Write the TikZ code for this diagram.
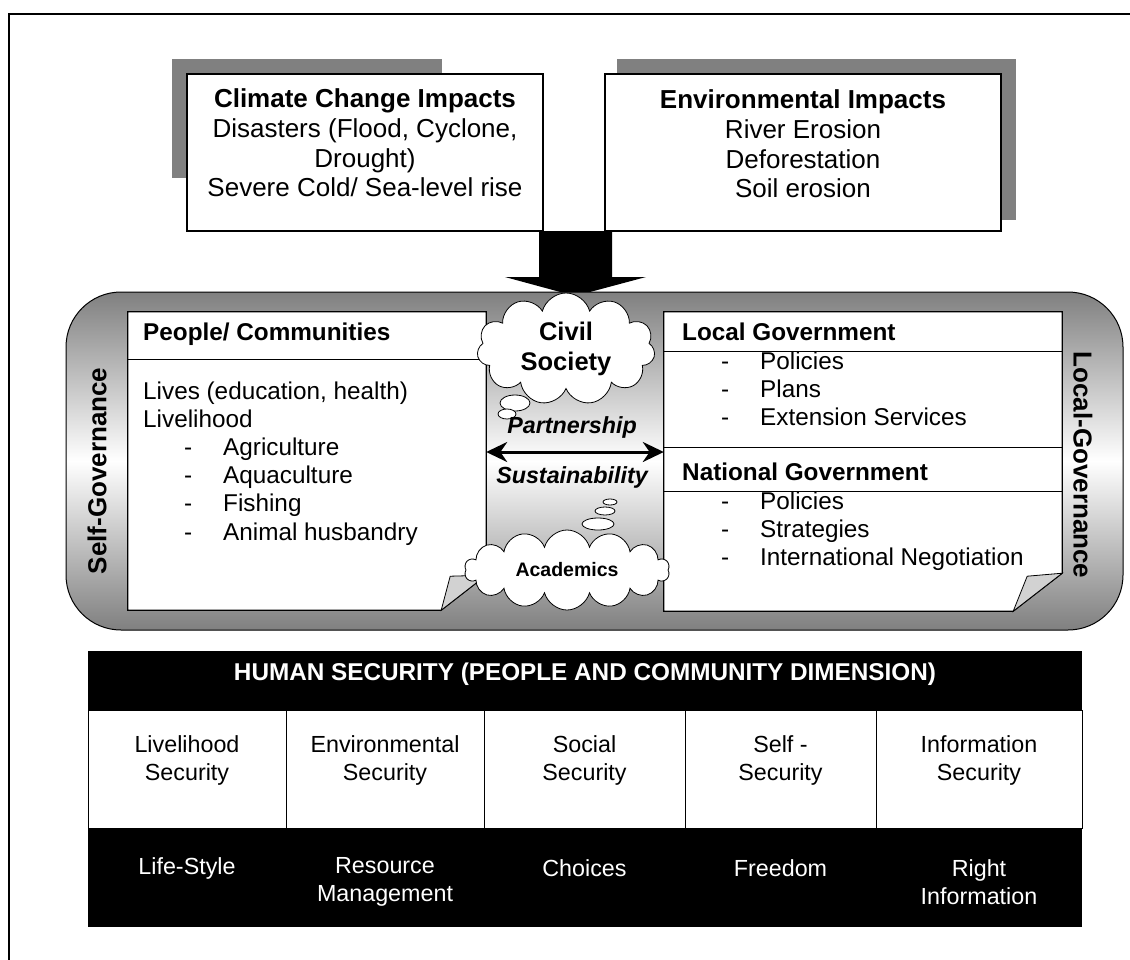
\documentclass[tikz,border=0pt]{standalone}
\usepackage{fontspec}
\setmainfont{Liberation Sans}
\usetikzlibrary{shapes.symbols,arrows.meta}

\newcommand\txtbox{\fontsize{26}{29.7}\selectfont}
\newcommand\txtmid{\fontsize{24.3}{28}\selectfont}
\newcommand\txttab{\fontsize{23.3}{28}\selectfont}

\begin{document}
\begin{tikzpicture}[x=1pt,y=-1pt,
		every node/.style={inner sep=0pt},
		impactbox/.style={draw=black,fill=white,line width=1.3pt},
		govbox/.style={draw=black,fill=white,line width=1.2pt},
		fold/.style={draw=black,fill=gray!35,line width=0.8pt},
		bubble/.style={draw=black,fill=white,line width=0.8pt},
		cloudy/.style={cloud,cloud ignores aspect,draw=black,fill=white,line width=0.8pt},
		head/.style={font=\txtmid\bfseries,anchor=west,text height=17pt,text depth=5pt},
		line/.style={font=\txtmid,anchor=west,text height=17pt,text depth=5pt},
		seccell/.style={draw=black,fill=white,line width=1pt,minimum height=118pt}]
	\useasboundingbox (0,0) rectangle (1130,959);
	\clip (0,0) rectangle (1130,959);
	\draw[line width=1.5pt] (9,1000) -- (9,14) -- (1200,14);

	% impacts on top, with their grey backs
	\fill[gray] (172,59) rectangle (442,178);
	\fill[gray] (617,59) rectangle (1016,220);
	\fill[black] (539,231) -- (612,231) -- (612,277) -- (646,277) -- (575,296) -- (505,277) -- (539,277) -- cycle;
	\node[impactbox,minimum width=356pt,minimum height=157pt] (climate) at (365,152.5) {};
	\node[font=\txtbox,align=center] (climtxt) at (365,143) {\textbf{Climate Change Impacts}\\Disasters (Flood, Cyclone,\\Drought)\\Severe Cold/ Sea-level rise};
	\node[impactbox,minimum width=396pt,minimum height=157pt] (environ) at (803,152.5) {};
	\node[font=\txtbox,align=center] (envtxt) at (803,144) {\textbf{Environmental Impacts}\\River Erosion\\Deforestation\\Soil erosion};

	% governance band
	\draw[rounded corners=55pt,top color=gray,bottom color=gray,middle color=white,line width=1pt] (66,292) rectangle (1123,630);
	\node[rotate=90,font=\txtbox\bfseries] (selfgov) at (97,471) {Self-Governance};
	\node[rotate=-90,font=\txtbox\bfseries] (localgov) at (1083,465) {Local-Governance};

	% people / communities
	\node[minimum width=358pt,minimum height=298pt] (people) at (307,461) {};
	\draw[govbox] (people.north west) -- (people.north east) -- ([yshift=35pt]people.south east) -- ([xshift=-45pt]people.south east) -- (people.south west) -- cycle;
	\draw[line width=1pt] (people.west |- 0,359) -- (people.east |- 0,359);
	\draw[fold] ([xshift=-45pt]people.south east) -- ([xshift=-36pt,yshift=34pt]people.south east) -- ([yshift=35pt]people.south east) -- cycle;
	\node[head] (pchead) at (143,334) {People/ Communities};
	\node[line] (lives) at (143,393) {Lives (education, health)};
	\node[line] (livelih) at (143,421) {Livelihood};
	\foreach \item [count=\k] in {Agriculture,Aquaculture,Fishing,Animal husbandry} {
		\node[line] (pcdash\k) at (184,{421+\k*28.3}) {-};
		\node[line] (pcitem\k) at (223,{421+\k*28.3}) {\item};
	}

	% local and national government
	\node[minimum width=398pt,minimum height=299pt] (gov) at (863,461.5) {};
	\draw[govbox] (gov.north west) -- (gov.north east) -- ([yshift=38pt]gov.south east) -- ([xshift=-49pt]gov.south east) -- (gov.south west) -- cycle;
	\draw[line width=1pt] (gov.west |- 0,351) -- (gov.east |- 0,351);
	\draw[line width=1pt] (gov.west |- 0,447) -- (gov.east |- 0,447);
	\draw[line width=1pt] (gov.west |- 0,491) -- (gov.east |- 0,491);
	\draw[fold] ([xshift=-49pt]gov.south east) -- ([xshift=-35pt,yshift=35pt]gov.south east) -- ([yshift=38pt]gov.south east) -- cycle;
	\node[head] (lghead) at (682,334) {Local Government};
	\foreach \item [count=\k] in {Policies,Plans,Extension Services} {
		\node[line] (lgdash\k) at (721,{335+\k*28}) {-};
		\node[line] (lgitem\k) at (760,{335+\k*28}) {\item};
	}
	\node[head] (nghead) at (682,474) {National Government};
	\foreach \item [count=\k] in {Policies,Strategies,International Negotiation} {
		\node[line] (ngdash\k) at (721,{475+\k*28}) {-};
		\node[line] (ngitem\k) at (760,{475+\k*28}) {\item};
	}

	% partners in the middle
	\node[cloudy,cloud puffs=11,minimum width=178pt,minimum height=112pt,align=center,font=\fontsize{25.5}{30}\selectfont\bfseries] (civil) at (566,349) {Civil\\Society};
	\draw[bubble] (515,403) ellipse (15 and 8);
	\draw[bubble] (507,414) ellipse (9 and 5);
	\node[font=\fontsize{23.3}{28}\selectfont\bfseries\itshape] (partner) at (572,427) {Partnership};
	\draw[{Stealth[length=21pt,width=20pt]}-{Stealth[length=21pt,width=20pt]},line width=3pt] (people.east |- 0,452) -- (gov.west |- 0,452);
	\node[font=\fontsize{23.3}{28}\selectfont\bfseries\itshape] (sustain) at (572,477) {Sustainability};
	\draw[bubble] (610,502) ellipse (7 and 3);
	\draw[bubble] (605,511) ellipse (10 and 4);
	\draw[bubble] (598,524) ellipse (16 and 6);
	\node[cloudy,cloud puffs=14,minimum width=205pt,minimum height=80pt,font=\fontsize{19.5}{23}\selectfont\bfseries] (acad) at (567,570) {Academics};

	% human security table
	\node[fill=black,minimum width=994pt,minimum height=276pt] (hsec) at (585,789) {};
	\node[font=\fontsize{24.3}{28}\selectfont\bfseries,text=white] (hsechead) at (585,674) {HUMAN SECURITY (PEOPLE AND COMMUNITY DIMENSION)};
	\foreach \cx/\cw/\sec/\dim/\dy [count=\i] in {
			187/198/{Livelihood\\Security}/{Life-Style}/868,
			385/198/{Environmental\\Security}/{Resource\\Management}/882,
			584.5/201/{Social\\Security}/{Choices}/868,
			780.5/191/{Self -\\Security}/{Freedom}/868,
			979/206/{Information\\Security}/{Right\\Information}/882} {
		\node[seccell,minimum width=\cw pt] (cell\i) at (\cx,769) {};
		\node[font=\txttab,align=center] (sectxt\i) at (\cx,760) {\sec};
		\node[font=\txttab,align=center,text=white] (dimtxt\i) at (\cx,\dy) {\dim};
	}
\end{tikzpicture}
\end{document}
